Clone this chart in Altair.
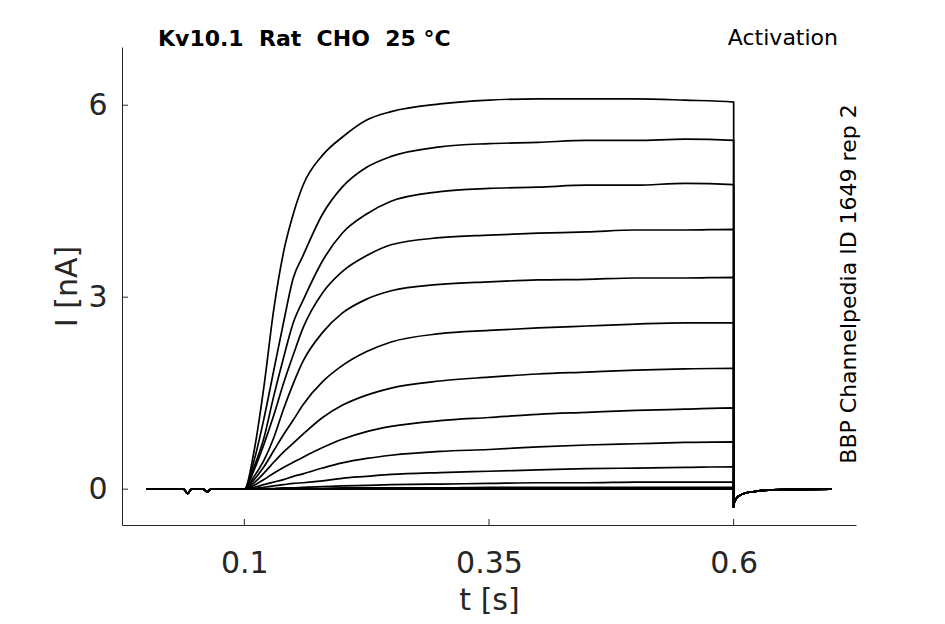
import altair as alt
import pandas as pd

# ---- data ----
hold_t = [0.0, 0.038, 0.042, 0.046, 0.058, 0.062, 0.066, 0.1]
hold_i = [0.0, 0.0, -0.07, 0.0, 0.0, -0.04, 0.0, 0.0]

pulse_t = [0.1, 0.11, 0.12, 0.13, 0.14, 0.15, 0.16, 0.18, 0.2, 0.225,
           0.25, 0.3, 0.35, 0.4, 0.45, 0.5, 0.55, 0.6]

sweep_01 = [0, 0.6, 1.6, 2.8, 3.7, 4.3, 4.75, 5.22, 5.5, 5.77, 5.9, 6.02, 6.08, 6.1, 6.1, 6.1, 6.08, 6.05]
sweep_02 = [0, 0.45, 1.1, 1.85, 2.6, 3.3, 3.65, 4.3, 4.72, 5.03, 5.2, 5.35, 5.4, 5.42, 5.45, 5.45, 5.47, 5.45]
sweep_03 = [0, 0.35, 0.8, 1.45, 2.05, 2.6, 2.95, 3.57, 4.0, 4.3, 4.5, 4.65, 4.7, 4.72, 4.75, 4.75, 4.78, 4.76]
sweep_04 = [0, 0.3, 0.7, 1.15, 1.65, 2.1, 2.52, 3.07, 3.4, 3.65, 3.82, 3.93, 3.97, 4.0, 4.02, 4.05, 4.05, 4.06]
sweep_05 = [0, 0.2, 0.45, 0.8, 1.25, 1.65, 2.0, 2.45, 2.75, 2.97, 3.1, 3.2, 3.24, 3.27, 3.28, 3.3, 3.3, 3.31]
sweep_06 = [0, 0.15, 0.35, 0.6, 0.85, 1.08, 1.32, 1.68, 1.93, 2.15, 2.3, 2.43, 2.48, 2.52, 2.55, 2.58, 2.6, 2.6]
sweep_07 = [0, 0.1, 0.25, 0.42, 0.58, 0.72, 0.86, 1.12, 1.31, 1.47, 1.58, 1.69, 1.75, 1.8, 1.83, 1.86, 1.88, 1.89]
sweep_08 = [0, 0.06, 0.15, 0.25, 0.34, 0.42, 0.5, 0.65, 0.78, 0.9, 0.98, 1.07, 1.12, 1.17, 1.2, 1.23, 1.25, 1.27]
sweep_09 = [0, 0.03, 0.07, 0.11, 0.15, 0.2, 0.24, 0.33, 0.41, 0.48, 0.53, 0.59, 0.62, 0.66, 0.69, 0.71, 0.73, 0.74]
sweep_10 = [0, 0.01, 0.03, 0.05, 0.07, 0.09, 0.1, 0.13, 0.17, 0.2, 0.23, 0.26, 0.28, 0.3, 0.32, 0.33, 0.34, 0.35]
sweep_11 = [0, 0.0, 0.01, 0.01, 0.02, 0.02, 0.03, 0.04, 0.05, 0.06, 0.07, 0.08, 0.09, 0.1, 0.1, 0.11, 0.11, 0.11]
sweep_12 = [0, 0.0, 0.0, 0.0, 0.01, 0.01, 0.01, 0.01, 0.02, 0.02, 0.02, 0.02, 0.03, 0.03, 0.03, 0.03, 0.03, 0.03]
sweep_13 = [0, 0.0, 0.0, 0.0, 0.0, 0.0, 0.0, 0.0, 0.0, 0.01, 0.01, 0.01, 0.01, 0.01, 0.01, 0.01, 0.01, 0.01]
sweep_14 = [0, 0.0, 0.0, 0.0, 0.0, 0.0, 0.0, 0.0, 0.0, 0.0, 0.0, 0.0, 0.0, 0.0, 0.0, 0.0, 0.0, 0.0]

tail_t = [0.6, 0.6005, 0.603, 0.607, 0.612, 0.62, 0.63, 0.64, 0.7]
tail_i = [-0.28, -0.22, -0.14, -0.09, -0.06, -0.04, -0.02, -0.01, 0.0]

y_ticks = [0, 3, 6]
x_ticks = [0.1, 0.35, 0.6]

NB = "\u00a0"
title_left = "Kv10.1" + NB * 2 + "Rat" + NB * 2 + "CHO" + NB * 2 + "25" + NB + "°C"
title_right = "Activation"
side_note = "BBP Channelpedia ID 1649 rep 2"

sweeps = [sweep_01, sweep_02, sweep_03, sweep_04, sweep_05, sweep_06, sweep_07,
          sweep_08, sweep_09, sweep_10, sweep_11, sweep_12, sweep_13, sweep_14]

rows = []
for k, sw in enumerate(sweeps):
    ts = hold_t[:-1] + pulse_t + tail_t
    vs = hold_i[:-1] + sw + tail_i
    for j, (t, v) in enumerate(zip(ts, vs)):
        rows.append({"sweep": k, "order": j, "t": t, "i": v})
df = pd.DataFrame(rows)

AX = "#262626"
FONT = "DejaVu Sans"
W, H = 734, 478

xscale = alt.Scale(domain=[-0.025, 0.725], nice=False, zero=False)
yscale = alt.Scale(domain=[-0.56, 6.91], nice=False, zero=False)

lines = alt.Chart(df).mark_line(color="black", strokeWidth=1.7, interpolate="monotone").encode(
    x=alt.X("t:Q", scale=xscale, title="t [s]",
            axis=alt.Axis(values=x_ticks, format="~g", ticks=False, tickSize=0, grid=False,
                          domainColor=AX, domainWidth=1, labelFont=FONT, labelFontSize=30,
                          labelColor=AX, labelPadding=23, titleFont=FONT, titleFontSize=30,
                          titleFontWeight="normal", titleColor=AX, titlePadding=7)),
    y=alt.Y("i:Q", scale=yscale, title="I [nA]",
            axis=alt.Axis(values=y_ticks, format="d", ticks=False, tickSize=0, grid=False,
                          domainColor=AX, domainWidth=1, labelFont=FONT, labelFontSize=30,
                          labelColor=AX, labelPadding=15, titleFont=FONT, titleFontSize=30,
                          titleFontWeight="normal", titleColor=AX, titlePadding=5)),
    detail="sweep:N",
    order="order:Q",
)

ytick_df = pd.DataFrame({"v": y_ticks})
xtick_df = pd.DataFrame({"v": x_ticks})

yticks = alt.Chart(ytick_df).mark_rule(color=AX, strokeWidth=1).encode(
    y=alt.Y("v:Q", scale=yscale), x=alt.value(0), x2=alt.value(6))
xticks = alt.Chart(xtick_df).mark_rule(color=AX, strokeWidth=1).encode(
    x=alt.X("v:Q", scale=xscale), y=alt.value(H), y2=alt.value(H - 6))

one = pd.DataFrame({"a": [0]})
t1 = alt.Chart(one).mark_text(text=title_left, font=FONT, fontSize=22, fontWeight="bold",
                              align="left", baseline="middle", color="black").encode(
    x=alt.value(36), y=alt.value(-8))
t2 = alt.Chart(one).mark_text(text=title_right, font=FONT, fontSize=22,
                              align="right", baseline="middle", color="black").encode(
    x=alt.value(716), y=alt.value(-9))
t3 = alt.Chart(one).mark_text(text=side_note, font=FONT, fontSize=22, angle=270,
                              align="center", baseline="middle", color="black").encode(
    x=alt.value(727), y=alt.value(237))

chart = alt.layer(lines, yticks, xticks, t1, t2, t3).properties(
    width=W, height=H,
    autosize=alt.AutoSizeParams(type="none"),
    padding={"left": 114, "top": 39, "right": 70, "bottom": 91},
).configure(background="white").configure_view(stroke=None, strokeWidth=0)

chart.save("out.html", embed_options={"renderer": "svg", "actions": False})
